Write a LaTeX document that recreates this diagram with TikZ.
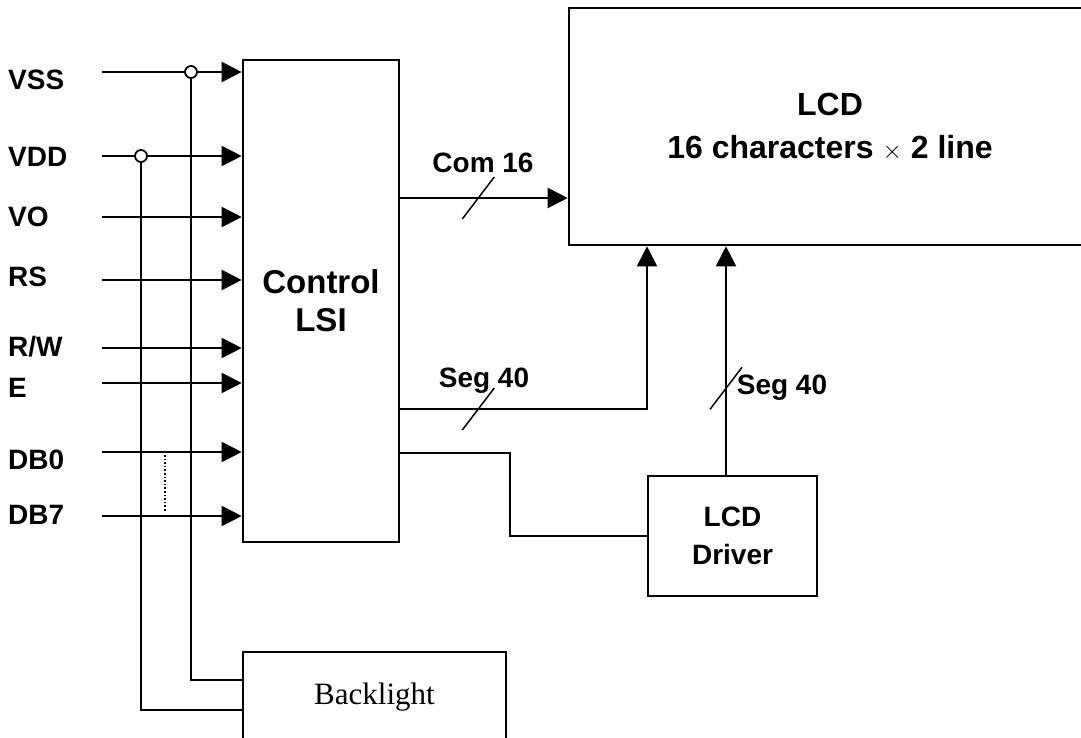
\documentclass[tikz,border=0pt]{standalone}
\usepackage{fontspec}
\setmainfont{Liberation Sans}
\newfontfamily\blfont{Liberation Serif}
\usetikzlibrary{arrows.meta, positioning, calc}

\begin{document}
\begin{tikzpicture}[x=1pt, y=-1pt,
  every node/.style={font=\bfseries\fontsize{28}{38}\selectfont, inner sep=0pt},
  block/.style={draw, line width=2.6pt, align=center},
  sig/.style={line width=2pt},
  arr/.style={sig, -{Triangle[length=20pt, width=20pt]}},
  junc/.style={circle, draw, fill=white, line width=1.8pt, minimum size=12pt}]
  \useasboundingbox (0,0) rectangle (1081,738);
  \clip (0,0) rectangle (1081,738);
  % Blocks
  \node[block, minimum width=156pt, minimum height=482pt,
        font=\bfseries\fontsize{33}{38}\selectfont] (lsi) at (321,301) {Control\\LSI};
  \node[block, minimum width=522pt, minimum height=237pt,
        font=\bfseries\fontsize{32}{43}\selectfont] (lcd) at (830,126.5) {LCD\\16 characters $\times$ 2 line};
  \node[block, minimum width=169pt, minimum height=120pt] (drv) at (732.5,536) {LCD\\Driver};
  \node[draw, line width=1.8pt, minimum width=263pt, minimum height=90pt,
        font=\blfont\fontsize{31}{36}\selectfont] (bl) at (374.5,697) {Backlight};
  % Supply buses to the backlight
  \coordinate (jvss) at (191,72);
  \coordinate (jvdd) at (141,156);
  \draw[sig] (jvss) |- ([yshift=17pt]bl.west);
  \draw[sig] (jvdd) |- ([yshift=-13pt]bl.west);
  % Input pins
  \foreach \lbl/\y/\ly [count=\i] in {VSS/72/80, VDD/156/157, VO/217/217, RS/280/277,
      {R/W}/348/347, E/383/388, DB0/452/460, DB7/516/515} {
    \coordinate (pin\i) at (102,\y);
    \node[anchor=west] (lbl\i) at (8,\ly) {\lbl};
    \draw[arr] (pin\i) -- (pin\i -| lsi.west);
  }
  \draw[dotted, line width=1.6pt] (165,455) -- (165,512);
  \node[junc] at (jvss) {};
  \node[junc] at (jvdd) {};
  % Outputs of the control LSI
  \path (lsi.east) ++(0,-103) coordinate (comout);
  \path (lsi.east) ++(0,108) coordinate (segout);
  \path (lsi.east) ++(0,152) coordinate (drvout);
  \path (lcd.south) ++(-183,0) coordinate (lcdsegA);
  \path (lcd.south) ++(-104,0) coordinate (lcdsegB);
  \draw[arr] (comout) -- (comout -| lcd.west);
  \draw[arr] (segout) -| (lcdsegA);
  \draw[sig] (drvout) -- ++(110,0) |- (drv.west);
  \draw[arr] (drv.north -| lcdsegB) -- (lcdsegB);
  % Bus width marks
  \draw[line width=1.5pt] ($(comout)+(78,0)$) ++(-16,21) -- ++(32,-42);
  \draw[line width=1.5pt] ($(segout)+(78,0)$) ++(-16,21) -- ++(32,-42);
  \draw[line width=1.5pt] ($(lcdsegB)+(0,142)$) ++(-16,21) -- ++(32,-42);
  \node (comlbl) at (483,163) {Com 16};
  \node (seglblA) at (484,381) {Seg 40};
  \node (seglblB) at (782,388) {Seg 40};
\end{tikzpicture}
\end{document}
